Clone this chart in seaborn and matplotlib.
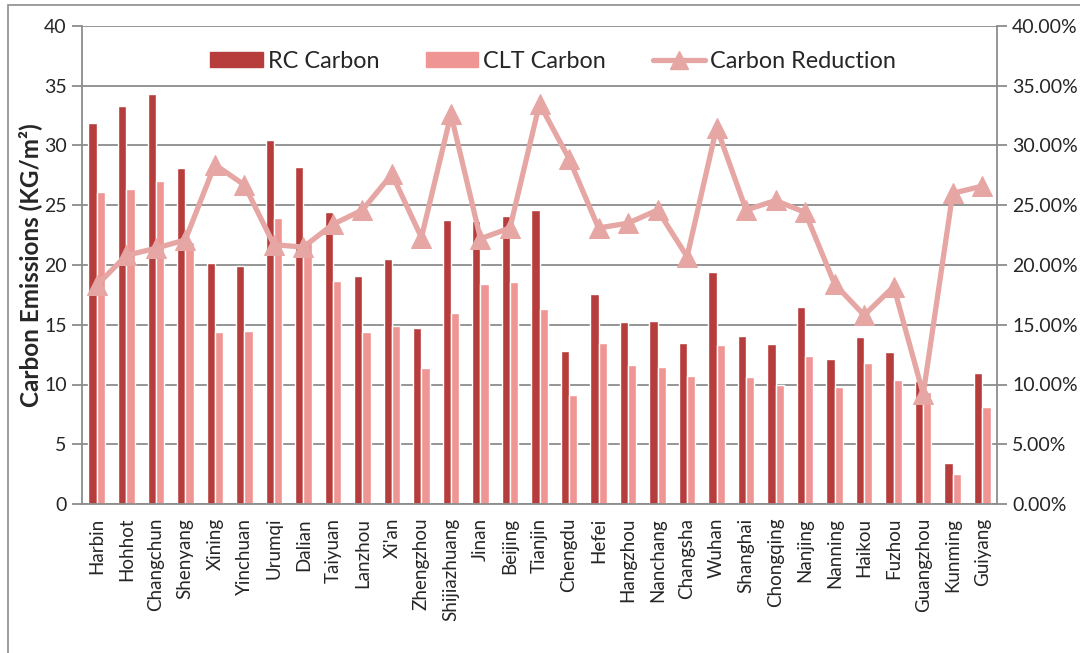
import numpy as np
import pandas as pd
import matplotlib
matplotlib.use("Agg")
import matplotlib.pyplot as plt
import seaborn as sns
from matplotlib.ticker import FuncFormatter, MultipleLocator
from matplotlib.patches import Rectangle
from matplotlib.lines import Line2D

cities = ["Harbin", "Hohhot", "Changchun", "Shenyang", "Xining", "Yinchuan", "Urumqi",
          "Dalian", "Taiyuan", "Lanzhou", "Xi'an", "Zhengzhou", "Shijiazhuang", "Jinan",
          "Beijing", "Tianjin", "Chengdu", "Hefei", "Hangzhou", "Nanchang", "Changsha",
          "Wuhan", "Shanghai", "Chongqing", "Nanjing", "Nanning", "Haikou", "Fuzhou",
          "Guangzhou", "Kunming", "Guiyang"]
rc_carbon = [31.9, 33.3, 34.3, 28.1, 20.2, 19.9, 30.5, 28.2, 24.4, 19.1, 20.5, 14.7,
             23.8, 23.7, 24.1, 24.6, 12.8, 17.6, 15.2, 15.3, 13.5, 19.4, 14.1, 13.4,
             16.5, 12.1, 14.0, 12.7, 10.3, 3.4, 11.0]
clt_carbon = [26.1, 26.4, 27.0, 21.9, 14.4, 14.5, 23.9, 22.1, 18.7, 14.4, 14.9, 11.4,
              16.0, 18.4, 18.6, 16.3, 9.1, 13.5, 11.6, 11.5, 10.7, 13.3, 10.6, 10.0,
              12.4, 9.8, 11.8, 10.4, 9.4, 2.5, 8.1]
reduction = [18.3, 20.8, 21.4, 22.1, 28.4, 26.7, 21.7, 21.5, 23.4, 24.6, 27.6, 22.3,
             32.6, 22.2, 23.1, 33.5, 28.9, 23.1, 23.5, 24.6, 20.7, 31.5, 24.6, 25.4,
             24.4, 18.4, 15.8, 18.2, 9.2, 26.0, 26.6]
series_names = ["RC Carbon", "CLT Carbon", "Carbon Reduction"]

c_rc = "#B63D3B"
c_clt = "#EF9694"
c_line = "#E6A6A4"
grid_c = "#8C8C8C"

sns.set_theme(style="white")
plt.rcParams["font.family"] = ["Lato", "DejaVu Sans"]

df = pd.DataFrame({
    "city": cities * 2,
    "series": [series_names[0]] * len(cities) + [series_names[1]] * len(cities),
    "value": rc_carbon + clt_carbon,
})
df_line = pd.DataFrame({"pos": np.arange(len(cities)), "reduction": reduction})

fig = plt.figure(figsize=(10.8, 6.53), dpi=100)
fig.patches.append(Rectangle((8 / 1080, -0.1), 1.2, 1.1 - 5 / 653,
                             transform=fig.transFigure, fill=False,
                             edgecolor="#8C8C8C", linewidth=1.2, zorder=0))
ax = fig.add_axes([82 / 1080, 1 - 504 / 653, (997 - 82) / 1080, (504 - 26) / 653])

sns.barplot(data=df, x="city", y="value", hue="series", order=cities,
            hue_order=series_names[:2], palette=[c_rc, c_clt], width=0.56,
            gap=0, saturation=1, ax=ax, legend=False, errorbar=None)
ax.set_xlim(-0.5, len(cities) - 0.5)
ax.set_ylim(0, 40)
ax.yaxis.set_major_locator(MultipleLocator(5))
ax.grid(axis="y", color=grid_c, linewidth=1.3)
ax.set_axisbelow(True)
ax.set_xlabel("")
ax.set_ylabel("Carbon Emissions (KG/m²)", fontsize=17.5, fontweight="bold")
ax.yaxis.set_label_coords((42 - 82) / 915, 0.5)
ax.set_xticks(np.arange(len(cities)))
ax.set_xticklabels(cities, rotation=90, fontsize=13.5)
ax.set_xticks(np.arange(len(cities) + 1) - 0.5, minor=True)
ax.tick_params(axis="x", which="major", length=0, pad=10)
ax.tick_params(axis="x", which="minor", length=5, color=grid_c, width=1.3, direction="out")
ax.tick_params(axis="y", length=7, color=grid_c, width=1.3, direction="out", labelsize=14, pad=4)
for s in ["left", "bottom"]:
    ax.spines[s].set_color(grid_c)
    ax.spines[s].set_linewidth(1.3)
for s in ["top", "right"]:
    ax.spines[s].set_visible(False)

ax2 = ax.twinx()
sns.lineplot(data=df_line, x="pos", y="reduction", color=c_line, linewidth=3.8,
             marker="^", markersize=15, markeredgecolor=c_line, ax=ax2, legend=False)
ax2.set_ylim(0, 40)
ax2.yaxis.set_major_locator(MultipleLocator(5))
ax2.yaxis.set_major_formatter(FuncFormatter(lambda v, p: f"{v:.2f}%"))
ax2.tick_params(axis="y", length=7, color=grid_c, width=1.3, direction="out", labelsize=14, pad=4)
ax2.set_ylabel("")
ax2.set_xlabel("")
for s in ["left", "top", "bottom"]:
    ax2.spines[s].set_visible(False)
ax2.spines["right"].set_color(grid_c)
ax2.spines["right"].set_linewidth(1.3)
ax2.set_xlim(-0.5, len(cities) - 0.5)

handles = [Rectangle((0, 0), 1, 1, color=c_rc), Rectangle((0, 0), 1, 1, color=c_clt),
           Line2D([0], [0], color=c_line, linewidth=3.8, marker="^", markersize=13)]
ax2.legend(handles, series_names, ncol=3, frameon=False, fontsize=16.8,
           loc="center left", bbox_to_anchor=((210 - 82) / 915, (504 - 61) / 478),
           handlelength=2.25, handleheight=0.65, handletextpad=0.22, columnspacing=2.0,
           borderaxespad=0, borderpad=0)

fig.savefig("out.png", dpi=100)
